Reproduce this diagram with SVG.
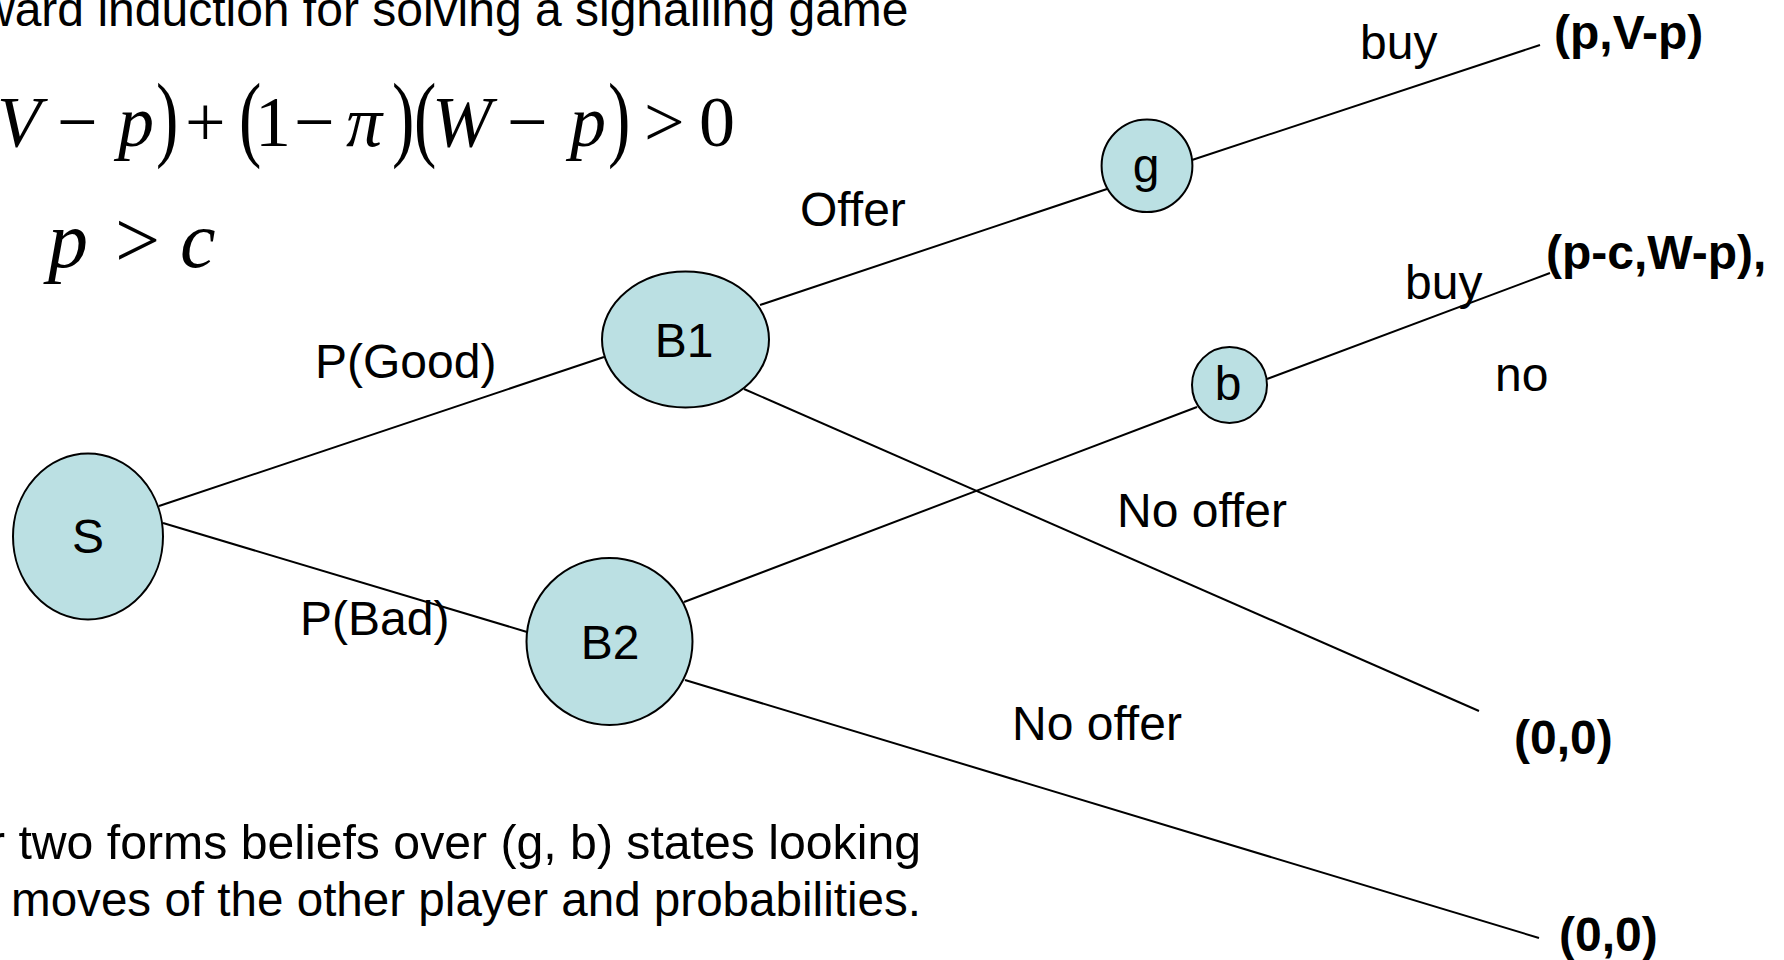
<svg xmlns="http://www.w3.org/2000/svg" width="1784" height="960" viewBox="0 0 1784 960">
  <style>
    .sans { font-family: "Liberation Sans", Arial, sans-serif; font-size: 48px; fill: #000; }
    .bold { font-weight: bold; }
    .mid { text-anchor: middle; }
    .math { font-family: "Liberation Serif", "Times New Roman", serif; fill: #000; }
    .it { font-style: italic; }
    .node { fill: #BBE0E3; stroke: #000; stroke-width: 2; }
    .edge { stroke: #000; stroke-width: 2; fill: none; }
  </style>

  <rect width="1784" height="960" fill="#fff"/>

  <!-- heading -->
  <text class="sans" x="-20" y="26">ward induction for solving a signalling game</text>

  <!-- condition formulas -->
  <g id="formula-1" class="math" font-size="72">
    <text class="it" x="-3" y="146">V</text>
    <text x="57" y="146">−</text>
    <text class="it" x="118" y="146">p</text>
    <text transform="translate(156,149) scale(0.7,1)" font-size="96">)</text>
    <text x="185" y="146">+</text>
    <text transform="translate(239,149) scale(0.7,1)" font-size="96">(</text>
    <text x="255" y="146">1</text>
    <text x="294" y="146">−</text>
    <text class="it" x="346" y="146">π</text>
    <text transform="translate(392,149) scale(0.7,1)" font-size="96">)</text>
    <text transform="translate(414,149) scale(0.7,1)" font-size="96">(</text>
    <text class="it" x="432" y="146">W</text>
    <text x="507" y="146">−</text>
    <text class="it" x="570" y="146">p</text>
    <text transform="translate(608,149) scale(0.7,1)" font-size="96">)</text>
    <text x="644" y="146">&gt;</text>
    <text x="699" y="146">0</text>
  </g>
  <g id="formula-2" class="math" font-size="80">
    <text class="it" x="48" y="267">p</text>
    <text x="115" y="267">&gt;</text>
    <text class="it" x="180" y="267">c</text>
  </g>

  <!-- game tree branches -->
  <g id="connectors" class="edge">
    <line x1="159" y1="506" x2="604" y2="357"/>
    <line x1="163" y1="523" x2="527" y2="632"/>
    <line x1="760" y1="305" x2="1107" y2="189"/>
    <line x1="744" y1="389" x2="1479" y2="711"/>
    <line x1="684" y1="602" x2="1197" y2="407"/>
    <line x1="685" y1="680" x2="1539" y2="938"/>
    <line x1="1192" y1="160" x2="1540" y2="45"/>
    <line x1="1267" y1="379" x2="1550" y2="273"/>
  </g>

  <!-- branch labels -->
  <g id="branch-labels" class="sans">
    <text x="315" y="378">P(Good)</text>
    <text x="300" y="635">P(Bad)</text>
    <text x="800" y="226">Offer</text>
    <text x="1117" y="527">No offer</text>
    <text x="1012" y="740">No offer</text>
    <text x="1360" y="59">buy</text>
    <text x="1405" y="299">buy</text>
    <text x="1495" y="391">no</text>
  </g>

  <!-- payoffs -->
  <g id="payoffs" class="sans bold">
    <text x="1554" y="49">(p,V-p)</text>
    <text x="1546" y="269">(p-c,W-p),</text>
    <text x="1514" y="754">(0,0)</text>
    <text x="1559" y="951">(0,0)</text>
  </g>

  <!-- decision nodes -->
  <g id="node-S">
    <ellipse class="node" cx="88" cy="536.5" rx="75" ry="83"/>
    <text class="sans mid" x="88" y="553">S</text>
  </g>
  <g id="node-B1">
    <ellipse class="node" cx="685.5" cy="339.5" rx="83.5" ry="68"/>
    <text class="sans mid" x="684" y="357">B1</text>
  </g>
  <g id="node-B2">
    <ellipse class="node" cx="609.5" cy="641.5" rx="83" ry="83.5"/>
    <text class="sans mid" x="610" y="659">B2</text>
  </g>
  <g id="node-g">
    <ellipse class="node" cx="1147" cy="165.7" rx="45.4" ry="46.3"/>
    <text class="sans mid" x="1146" y="182">g</text>
  </g>
  <g id="node-b">
    <ellipse class="node" cx="1229.5" cy="385" rx="37.5" ry="38"/>
    <text class="sans mid" x="1228" y="400">b</text>
  </g>

  <!-- explanatory note -->
  <g id="note" class="sans">
    <text x="-11" y="859" textLength="932" lengthAdjust="spacingAndGlyphs">r two forms beliefs over (g, b) states looking</text>
    <text x="11" y="916" textLength="910" lengthAdjust="spacingAndGlyphs">moves of the other player and probabilities.</text>
  </g>
</svg>
